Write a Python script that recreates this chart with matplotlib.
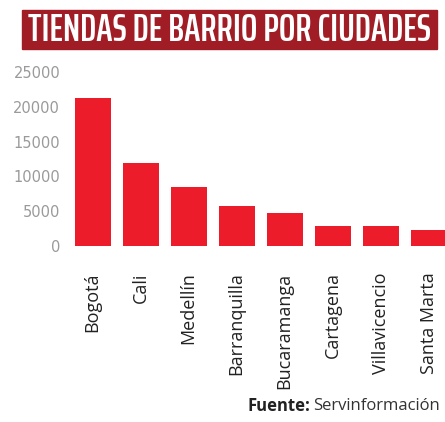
import matplotlib.pyplot as plt
from matplotlib.patches import Rectangle

ciudades = ["Bogotá", "Cali", "Medellín", "Barranquilla", "Bucaramanga",
            "Cartagena", "Villavicencio", "Santa Marta"]
tiendas = [21200, 11900, 8500, 5800, 4800, 2900, 2900, 2300]
y_ticks = [0, 5000, 10000, 15000, 20000, 25000]

W, H = 445, 422
fig = plt.figure(figsize=(W / 100, H / 100), dpi=100)
fig.patch.set_facecolor("white")

# title banner
fig.patches.append(Rectangle((22 / W, 1 - 49 / H), 415 / W, 39 / H,
                             transform=fig.transFigure, color="#a11d25", zorder=0))
fig.text(229.5 / W, 1 - 30.5 / H, "TIENDAS DE BARRIO POR CIUDADES",
         ha="center", va="center", color="white", fontsize=28,
         fontweight="semibold", family="Saira ExtraCondensed")

ax = fig.add_axes([68.5 / W, 1 - 246 / H, (W - 68.5) / W, 174 / H])
ax.bar(range(len(ciudades)), tiendas, width=0.75, color="#ec1c2a")
ax.set_xlim(-0.5, 7.34)
ax.set_ylim(0, 25000)
ax.set_yticks(y_ticks)
ax.set_yticklabels([str(v) for v in y_ticks], color="#9a9a9a", fontsize=10.5)
ax.set_xticks(range(len(ciudades)))
ax.set_xticklabels(ciudades, rotation=90, color="#222222", fontsize=13,
                   family="Open Sans", va="top")
ax.tick_params(length=0, pad=6)
ax.tick_params(axis="x", pad=19)
for s in ax.spines.values():
    s.set_visible(False)

t = fig.text(440 / W, 1 - 406 / H, "Servinformación",
             ha="right", va="center", fontsize=12, color="#333333", family="Open Sans")
fig.canvas.draw()
bb = t.get_window_extent()
fig.text(bb.x0 / W - 0.006, 1 - 406 / H, "Fuente:", ha="right", va="center",
         fontsize=12, color="#222222", family="Open Sans", fontweight="bold")

fig.savefig("out.png", dpi=100)
